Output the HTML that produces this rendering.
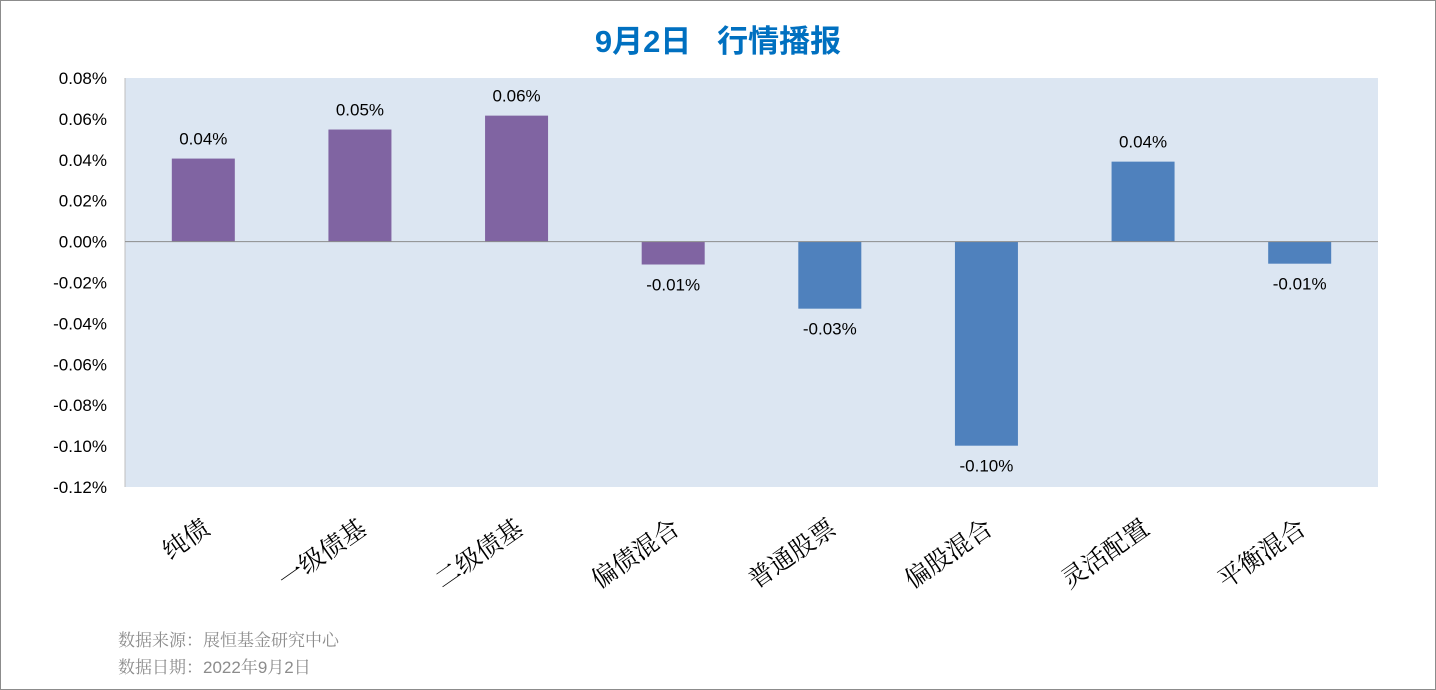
<!DOCTYPE html>
<html><head><meta charset="utf-8">
<style>
html,body{margin:0;padding:0;background:#fff;}
svg{display:block;}
</style></head>
<body>
<svg id="chart" width="1436" height="690" xmlns="http://www.w3.org/2000/svg">
<rect x="0.5" y="0.5" width="1435" height="689" fill="#fff" stroke="#8c8c8c"/>
<text x="718" y="52" text-anchor="middle" font-family="'Liberation Sans','Noto Sans CJK SC',sans-serif" font-size="31" font-weight="bold" fill="#0070c0">9月2日&#160;&#160;&#160;行情播报</text>
<rect x="125" y="78" width="1253" height="409" fill="#dce6f2"/>
<g id="yaxis"></g>
<g id="bars"></g>
<g id="xaxis"></g>
<text x="118" y="646" font-family="'Noto Serif CJK SC',serif" font-size="17" fill="#8c8c8c">数据来源：展恒基金研究中心</text>
<text x="118" y="673" font-family="'Liberation Sans','Noto Serif CJK SC',sans-serif" font-size="17" fill="#8c8c8c">数据日期：2022年9月2日</text>
</svg>
<script>
const categories = ["纯债","一级债基","二级债基","偏债混合","普通股票","偏股混合","灵活配置","平衡混合"];
const values = [0.0406,0.0548,0.0616,-0.0112,-0.0328,-0.0998,0.0391,-0.0108];
const valueLabels = ["0.04%","0.05%","0.06%","-0.01%","-0.03%","-0.10%","0.04%","-0.01%"];
const yTicks = [0.08,0.06,0.04,0.02,0,-0.02,-0.04,-0.06,-0.08,-0.10,-0.12];
const purpleCount = 4;
(function(){
const NS="http://www.w3.org/2000/svg";
const pLeft=125,pRight=1378,pTop=78,pBottom=487,ymax=0.08,ymin=-0.12;
function y(v){return pTop+(ymax-v)/(ymax-ymin)*(pBottom-pTop);}
const band=(pRight-pLeft)/categories.length;
function xc(i){return pLeft+band*(i+0.5);}
function mk(tag,attrs,parent){const e=document.createElementNS(NS,tag);for(const k in attrs)e.setAttribute(k,attrs[k]);parent.appendChild(e);return e;}
const ya=document.getElementById('yaxis'),bg=document.getElementById('bars'),xa=document.getElementById('xaxis');
const axisLine=mk('line',{x1:pLeft,x2:pLeft,y1:pTop,y2:pBottom,stroke:'#bfbfbf'},ya);


yTicks.forEach(t=>{
  const tx=mk('text',{x:107,y:y(t)+6,'text-anchor':'end','font-family':"'Liberation Sans',sans-serif",'font-size':17,fill:'#000'},ya);
  tx.textContent=t.toFixed(2)+'%';
  
  
});
categories.forEach((c,i)=>{
  const v=values[i],w=63;
  const y0=y(0),y1=y(v);
  const r=mk('rect',{x:xc(i)-w/2,y:Math.min(y0,y1),width:w,height:Math.abs(y1-y0),fill:i<purpleCount?'#8064a2':'#4f81bd'},bg);
  
  
  const ly=v>=0?y1-14:y1+26;
  const lt=mk('text',{x:xc(i),y:ly,'text-anchor':'middle','font-family':"'Liberation Sans',sans-serif",'font-size':17,fill:'#000'},bg);
  lt.textContent=valueLabels[i];
  
  
  const ct=mk('text',{x:0,y:0,'text-anchor':'end','font-family':"'Noto Serif CJK SC',serif",'font-size':25,fill:'#000',transform:'translate('+(xc(i)+8)+',532) rotate(-35)'},xa);
  ct.textContent=c;
  
  
});
const zl=mk('line',{x1:pLeft,x2:pRight,y1:y(0),y2:y(0),stroke:'#8c8c8c'},bg);


})();
</script>
</body></html>
